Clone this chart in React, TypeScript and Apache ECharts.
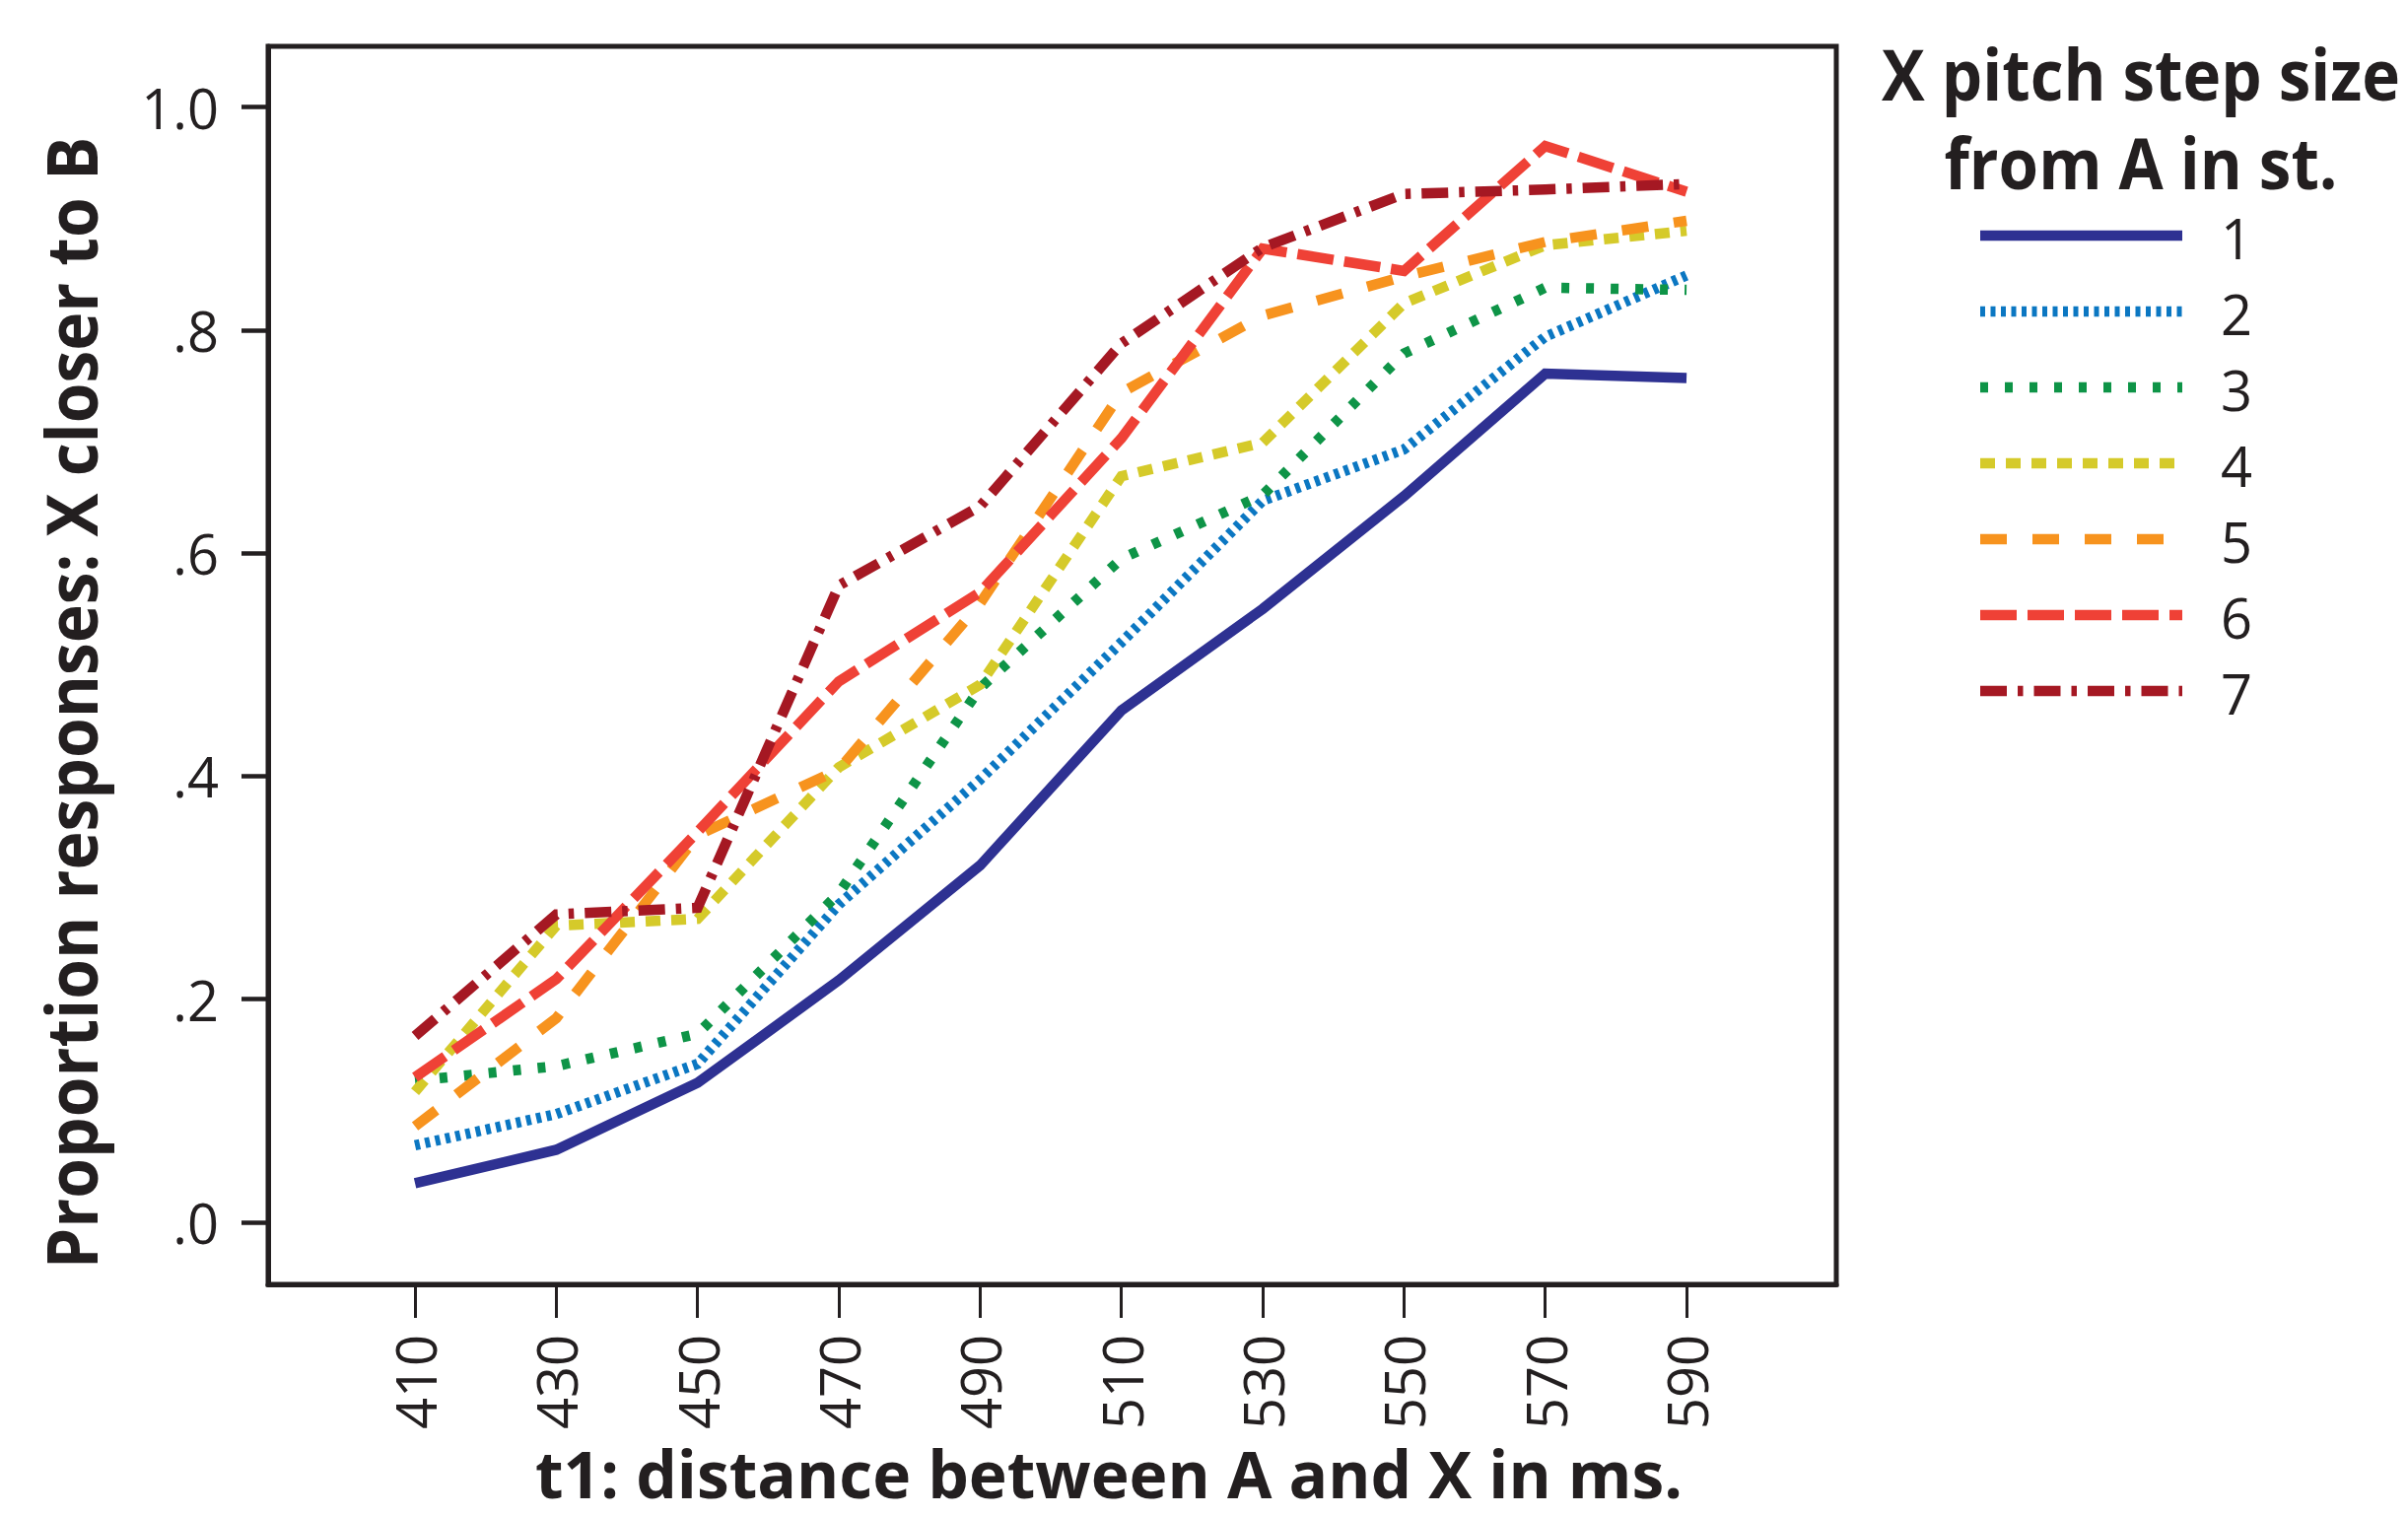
import React, { useEffect, useRef } from "react";
import * as echarts from "echarts";

// t1 values (ms) on the x axis
const tValues = [410, 430, 450, 470, 490, 510, 530, 550, 570, 590];

// Proportion "X closer to B" for each X pitch step size (semitones)
const step1 = [0.035, 0.065, 0.125, 0.217, 0.32, 0.459, 0.55, 0.651, 0.761, 0.757];
const step2 = [0.069, 0.097, 0.142, 0.285, 0.397, 0.52, 0.647, 0.693, 0.794, 0.849];
const step3 = [0.127, 0.14, 0.169, 0.295, 0.479, 0.595, 0.652, 0.779, 0.838, 0.836];
const step4 = [0.117, 0.266, 0.272, 0.408, 0.482, 0.669, 0.699, 0.824, 0.876, 0.889];
const step5 = [0.086, 0.183, 0.347, 0.406, 0.555, 0.744, 0.813, 0.848, 0.879, 0.898];
const step6 = [0.13, 0.218, 0.35, 0.485, 0.565, 0.703, 0.873, 0.853, 0.965, 0.924];
const step7 = [0.167, 0.276, 0.282, 0.571, 0.642, 0.788, 0.874, 0.922, 0.926, 0.931];

const stepLabels = ["1", "2", "3", "4", "5", "6", "7"];
const yTicks = [0, 0.2, 0.4, 0.6, 0.8, 1.0];

const xTitle = "t1: distance between A and X in ms.";
const yTitle = "Proportion responses: X closer to B";
const legendTitle = ["X pitch step size", "from A in st."];

const stepSeries = [step1, step2, step3, step4, step5, step6, step7];

const lineStyles: { color: string; dash: any }[] = [
  { color: "#2E3192", dash: "solid" },
  { color: "#0B77C2", dash: [5, 5.5] },
  { color: "#0E9447", dash: [8, 17] },
  { color: "#D5CA2A", dash: [15, 11] },
  { color: "#F7931E", dash: [27, 26] },
  { color: "#EF4136", dash: [37, 11] },
  { color: "#A51823", dash: [27, 11, 5.5, 11] },
];

const INK = "#231F20";
const FONT = '"Open Sans", "Noto Sans", "Liberation Sans", sans-serif';
const LINE_W = 10.5;

function measure(text: string, size: number, weight: string) {
  const c = document.createElement("canvas").getContext("2d");
  if (!c) return text.length * size * 0.55;
  c.font = `${weight} ${size}px "Open Sans"`;
  return c.measureText(text).width;
}

export default function App() {
  const ref = useRef<HTMLDivElement>(null);

  useEffect(() => {
    document.body.style.margin = "0";
    if (!ref.current) return;
    const chart = echarts.init(ref.current, null, { renderer: "svg" });

    const xTitleSize = 66;
    const yTitleSize = 72;
    const legTitleSize = 72;
    const xScale = 1164 / measure(xTitle, xTitleSize, "bold");
    const yScale = 1148 / measure(yTitle, yTitleSize, "bold");
    const legScale = 526 / measure(legendTitle[0], legTitleSize, "bold");

    const series = stepSeries.map((vals, i) => ({
      type: "line",
      name: stepLabels[i],
      data: tValues.map((t, j) => [t, vals[j]]),
      symbol: "none",
      lineStyle: {
        color: lineStyles[i].color,
        width: LINE_W,
        type: lineStyles[i].dash,
        cap: "butt",
        join: "miter",
      },
    }));

    const legendX1 = 2009;
    const legendX2 = 2214;
    const legendY0 = 239;
    const legendStep = 77;

    const graphics: any[] = [];
    legendTitle.forEach((line, k) => {
      graphics.push({
        type: "text",
        x: 2172,
        y: 74 + k * 90,
        scaleX: legScale,
        style: {
          text: line,
          fontSize: legTitleSize,
          fontWeight: "bold",
          fontFamily: FONT,
          fill: INK,
          align: "center",
          verticalAlign: "middle",
        },
      });
    });
    stepLabels.forEach((lab, i) => {
      const y = legendY0 + i * legendStep;
      const dash = lineStyles[i].dash;
      graphics.push({
        type: "line",
        shape: { x1: legendX1, y1: y, x2: legendX2, y2: y },
        style: {
          stroke: lineStyles[i].color,
          lineWidth: LINE_W,
          lineDash: dash === "solid" ? null : dash,
          lineCap: "butt",
        },
      });
      graphics.push({
        type: "text",
        x: 2253,
        y: y + 2,
        style: {
          text: lab,
          fontSize: 56,
          fontFamily: FONT,
          fill: INK,
          align: "left",
          verticalAlign: "middle",
        },
      });
    });
    graphics.push({
      type: "text",
      x: 1125,
      y: 1494,
      scaleX: xScale,
      style: {
        text: xTitle,
        fontSize: xTitleSize,
        lineHeight: 56,
        fontWeight: "bold",
        fontFamily: FONT,
        fill: INK,
        align: "center",
        verticalAlign: "middle",
      },
    });
    graphics.push({
      type: "text",
      x: 71,
      y: 713,
      rotation: Math.PI / 2,
      scaleX: yScale,
      style: {
        text: yTitle,
        fontSize: yTitleSize,
        fontWeight: "bold",
        fontFamily: FONT,
        fill: INK,
        align: "center",
        verticalAlign: "middle",
      },
    });

    chart.setOption({
      animation: false,
      backgroundColor: "#ffffff",
      grid: {
        left: 272,
        top: 47,
        width: 1591,
        height: 1256,
        show: true,
        borderColor: INK,
        borderWidth: 5,
      },
      xAxis: {
        type: "value",
        min: 389.2,
        max: 611.2,
        axisLine: { show: true, onZero: false, lineStyle: { color: INK, width: 5 } },
        splitLine: { show: false },
        axisTick: {
          show: true,
          length: 34,
          customValues: tValues,
          lineStyle: { color: INK, width: 3 },
        },
        axisLabel: {
          customValues: tValues,
          rotate: 90,
          margin: 51,
          fontSize: 56,
          fontFamily: FONT,
          color: INK,
        },
      },
      yAxis: {
        type: "value",
        min: -0.0557,
        max: 1.0544,
        axisLine: { show: true, onZero: false, lineStyle: { color: INK, width: 5 } },
        splitLine: { show: false },
        axisTick: {
          show: true,
          length: 27,
          customValues: yTicks,
          lineStyle: { color: INK, width: 4.5 },
        },
        axisLabel: {
          customValues: yTicks,
          margin: 50,
          fontSize: 56,
          fontFamily: FONT,
          color: INK,
          formatter: (v: number) => (v >= 0.999 ? "1.0" : "." + Math.round(v * 10)),
        },
      },
      series,
      graphic: { elements: graphics },
    });

    return () => chart.dispose();
  }, []);

  return <div ref={ref} style={{ width: 2443, height: 1539 }} />;
}
